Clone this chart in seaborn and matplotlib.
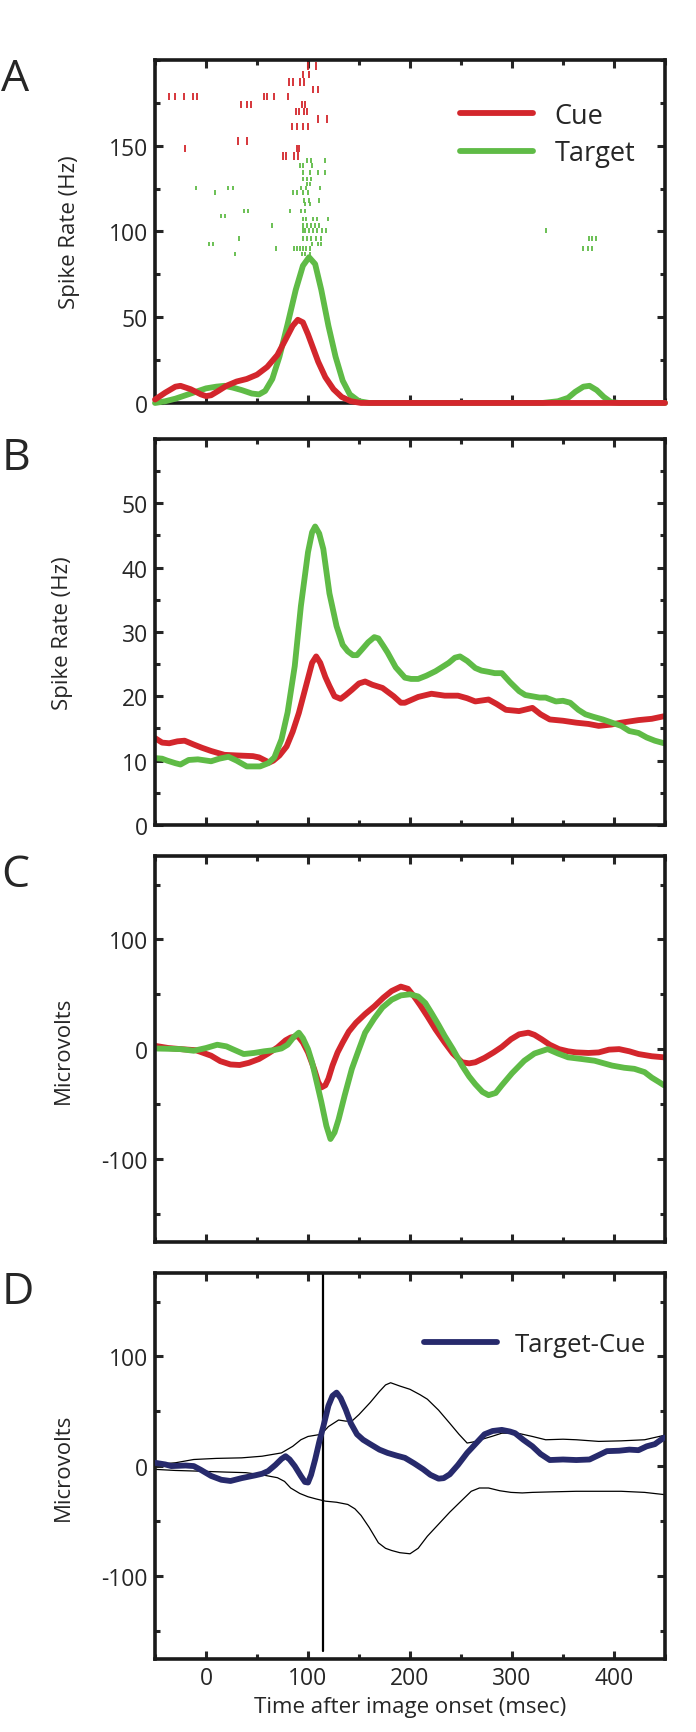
import numpy as np
import pandas as pd
import matplotlib
matplotlib.use('Agg')
import matplotlib.pyplot as plt
from matplotlib.ticker import MultipleLocator
import seaborn as sns

sns.set_style('ticks')
plt.rcParams['font.family'] = ['Open Sans', 'DejaVu Sans']
plt.rcParams['axes.unicode_minus'] = False

RED = '#d3262c'
GREEN = '#5fbb46'
NAVY = '#272a6c'

# ---- Panel A: smoothed spike rate (Hz) ----
cue_a_t = [-50, -40, -30, -25, -15, -5, 0, 5, 12, 20, 30, 40, 50, 60, 70, 78, 85, 90, 95,
           100, 105, 110, 117, 125, 133, 142, 152, 200, 300, 450]
cue_a_v = [2, 6, 9.5, 10, 8, 5, 4, 4.5, 7, 10, 12.5, 14, 16.5, 21, 28, 37, 45, 48.5, 47,
           40, 32, 24, 15, 8, 3.5, 1, 0, 0, 0, 0]
tgt_a_t = [-50, -40, -30, -20, -10, 0, 10, 18, 26, 35, 45, 52, 58, 65, 72, 80, 88, 95, 101,
           107, 113, 120, 127, 134, 141, 150, 160, 250, 330, 345, 355, 362, 370, 376, 383,
           390, 397, 405, 450]
tgt_a_v = [0, 1, 2.5, 4.5, 6.5, 8.5, 9.5, 10, 9, 7.5, 5.5, 5, 7, 14, 27, 46, 66, 80, 85,
           81, 66, 45, 27, 13, 5, 1, 0, 0, 0, 1, 3, 6.5, 9.5, 10, 7.5, 3.5, 0.5, 0, 0]

# spike rasters: row position (Hz axis) and spike times per row
cue_rows = [196.5, 191.7, 187.2, 182.9, 178.6, 174.2, 169.9, 165.6, 161.1, 152.8, 148.5, 144.0]
cue_spikes = [
    [100, 108],
    [95, 101],
    [81, 85, 92, 96],
    [105, 110],
    [-36, -30, -22, -13, -9, 57, 60, 67, 80],
    [34, 40, 44, 94, 97],
    [88, 91, 96, 99],
    [110, 119],
    [84, 89, 95, 100],
    [31, 40],
    [-21, 89, 91],
    [75, 78, 86, 90],
]
tgt_rows = [141.3, 138.4, 134.5, 130.6, 127.7, 125.2, 122.8, 118.0, 116.0, 112.1, 109.0,
            107.3, 103.4, 100.5, 96.0, 92.7, 90.2, 86.9]
tgt_spikes = [
    [99, 103, 117],
    [92, 95, 104],
    [95, 102, 110, 117],
    [95, 99, 103],
    [99, 102],
    [-10, 22, 26, 93, 98, 112],
    [9, 85, 89, 95, 100],
    [96, 101, 111],
    [97, 102],
    [37, 41, 82, 93, 97],
    [15, 19],
    [95, 98, 105, 109, 120],
    [65, 95, 99, 103, 107, 111],
    [95, 97, 101, 105, 109, 114, 118, 333],
    [32, 95, 99, 103, 108, 113, 375, 378, 382],
    [3, 7, 104, 110, 113],
    [69, 86, 89, 92, 95, 98, 102, 370, 374, 378],
    [28, 94, 97, 102],
]

# ---- Panel B: spike rate (Hz) ----
cue_b_t = [-50, -43, -36, -28, -21, -12, -4, 5, 18, 31, 46, 52, 57, 62, 66, 72, 79, 85, 91,
           97, 104, 108, 112, 117, 121, 126, 132, 137, 143, 150, 156, 163, 173, 184, 191,
           195, 208, 221, 234, 247, 256, 264, 277, 285, 294, 307, 320, 328, 337, 350, 363,
           375, 385, 397, 407, 424, 437, 449]
cue_b_v = [13.5, 12.8, 12.7, 13, 13.1, 12.5, 12, 11.5, 10.9, 10.8, 10.7, 10.5, 10.1, 9.7, 10,
           10.8, 12.2, 14.5, 17.4, 21, 25.2, 26.2, 25.2, 23, 21.6, 20, 19.6, 20.2, 21, 22,
           22.3, 21.8, 21.3, 20, 19, 19, 19.9, 20.4, 20.1, 20.1, 19.7, 19.2, 19.5, 18.8, 17.9,
           17.7, 18.2, 17.2, 16.4, 16.2, 15.9, 15.7, 15.4, 15.6, 15.9, 16.3, 16.5, 16.9]
tgt_b_t = [-50, -43, -38, -30, -25, -17, -8, 5, 13, 22, 30, 40, 53, 61, 67, 74, 80, 87, 93,
           100, 104, 107, 111, 115, 121, 128, 134, 139, 144, 148, 153, 159, 165, 169, 174,
           178, 186, 195, 201, 208, 216, 225, 232, 238, 244, 249, 256, 264, 270, 277, 283,
           290, 298, 307, 313, 320, 327, 333, 343, 350, 357, 365, 372, 380, 389, 398, 407,
           415, 424, 432, 440, 449]
tgt_b_v = [10.4, 10.3, 10, 9.6, 9.4, 10.1, 10.2, 9.9, 10.3, 10.6, 10, 9.1, 9.1, 9.6, 10.5,
           13.3, 17.5, 24.7, 34, 42.4, 45.5, 46.4, 45.3, 42.9, 36, 30.9, 28, 27, 26.4, 26.4,
           27.3, 28.4, 29.2, 29, 27.8, 26.8, 24.5, 22.9, 22.7, 22.7, 23.2, 23.9, 24.6, 25.2,
           26, 26.2, 25.5, 24.4, 24, 23.8, 23.6, 23.6, 22.2, 20.8, 20.2, 20, 19.8, 19.8, 19.2,
           19.3, 19, 17.9, 17.2, 16.8, 16.4, 15.9, 15.4, 14.6, 14.3, 13.6, 13.1, 12.7]

# ---- Panel C: field potential (microvolts) ----
cue_c_t = [-50, -37, -25, -10, -4, 5, 14, 24, 33, 42, 52, 61, 70, 78, 83, 90, 95, 100, 106,
           110, 113, 117, 120, 124, 129, 134, 140, 147, 156, 165, 174, 182, 191, 198, 204,
           210, 217, 225, 234, 242, 251, 258, 264, 273, 282, 290, 299, 307, 316, 322, 329,
           337, 346, 355, 363, 375, 385, 395, 405, 415, 424, 437, 449]
cue_c_v = [3, 1, 0, -1, -3, -6, -11, -14, -14.5, -12.5, -9, -4, 1.5, 8, 10.6, 12, 6, -3, -18,
           -30, -35, -33, -27, -15, -3, 6, 16, 24, 32, 39, 47, 53, 57, 55, 48, 40, 30, 18,
           6, -4, -12, -13, -12, -8, -3, 2, 9, 13.5, 15, 13, 9, 4, 0, -2, -3, -3.5, -3,
           -0.5, 0, -2, -4.5, -6.5, -7.5]
tgt_c_t = [-50, -25, -12, 0, 11, 20, 26, 37, 47, 57, 66, 74, 80, 86, 91, 95, 100, 104, 108,
           113, 118, 122, 126, 130, 136, 143, 150, 156, 165, 173, 182, 191, 200, 208, 215,
           221, 228, 234, 242, 251, 258, 264, 271, 277, 284, 290, 300, 312, 322, 335, 345,
           355, 368, 381, 398, 410, 420, 430, 437, 444, 449]
tgt_c_v = [0.6, 0, -1.5, 1, 4, 2.5, 0, -4.5, -3.5, -2, -1, 0.6, 4, 11, 15, 10, 0, -12, -28,
           -48, -70, -82, -76, -64, -42, -18, 0, 15, 28, 38, 45, 49, 50, 48, 42, 33, 22, 12,
           0, -15, -25, -32, -39, -42, -40, -33, -22, -10.6, -4, 0, -4, -7.5, -9, -10.6, -15,
           -17, -18, -21, -26, -30, -33]

# ---- Panel D: Target-Cue difference and bounds ----
diff_t = [-50, -40, -34, -20, -12, -5, 5, 15, 24, 35, 48, 55, 61, 68, 74, 78, 82, 87, 93,
          97, 100, 103, 107, 111, 115, 120, 124, 128, 132, 137, 142, 148, 154, 161, 170, 178,
          187, 195, 204, 213, 220, 228, 233, 239, 247, 256, 265, 273, 281, 290, 298, 303, 311,
          320, 328, 337, 350, 363, 376, 385, 393, 405, 415, 424, 432, 440, 449]
diff_v = [3, 1.5, 0, 0.5, 0, -3.5, -9, -12.5, -13.6, -11, -8.5, -7, -4.5, 1, 6.5, 9, 6, 0,
          -9, -14.5, -15, -8, 6, 22, 36, 55, 64, 67, 62, 51.5, 39, 29, 24, 20, 15, 12, 9.5,
          7.5, 2.5, -3, -8, -11.5, -11, -7.5, 1, 12, 21, 29, 32, 33, 31.5, 30, 24, 18, 11,
          5.5, 6, 5.5, 6, 10, 13.6, 14, 15, 14.5, 18, 20, 26]
upper_t = [-50, -30, -12, 10, 35, 55, 74, 85, 93, 100, 113, 120, 130, 137, 143, 150, 161, 170,
           176, 181, 190, 200, 210, 217, 228, 239, 248, 256, 262, 269, 280, 290, 300, 307,
           320, 333, 350, 363, 385, 407, 430, 449]
upper_v = [1.5, 3, 6, 7, 7.5, 9, 12, 18, 24, 27, 29, 36, 42, 41, 41, 47, 58, 68, 74, 76, 73,
           70, 65, 61, 51, 39, 29, 21, 22, 24, 27, 30, 30, 29.7, 27, 24, 24.5, 24, 22.5, 23,
           24, 28]
lower_t = [-50, -30, -12, 20, 39, 55, 70, 77, 83, 92, 100, 108, 117, 128, 139, 146, 152, 160,
           169, 176, 182, 190, 200, 208, 217, 228, 239, 250, 260, 268, 277, 288, 299, 310,
           320, 340, 363, 385, 407, 430, 449]
lower_v = [-3, -4, -4.5, -5.5, -6, -8, -10.6, -14, -20, -25, -28, -30, -32, -33, -35, -39,
           -45, -56, -70, -75, -77, -79, -80, -75, -64, -53, -42, -32, -23, -20, -20, -22.5,
           -24, -24.5, -24, -23.5, -23, -23, -23, -24, -26]
marker_time = 115

x_ticks = [0, 100, 200, 300, 400]

fig = plt.figure(figsize=(6.96, 17.33), dpi=100)
ax_a = fig.add_axes([0.2227, 0.7669, 0.7328, 0.1979])
ax_b = fig.add_axes([0.2227, 0.5234, 0.7328, 0.2227])
ax_c = fig.add_axes([0.2227, 0.2827, 0.7328, 0.2227])
ax_d = fig.add_axes([0.2227, 0.0421, 0.7328, 0.2227])
axes = [ax_a, ax_b, ax_c, ax_d]

THICK = 4.2

# A
for rows, spikes, col, h in [(cue_rows, cue_spikes, RED, 4.2), (tgt_rows, tgt_spikes, GREEN, 2.6)]:
    for r, ts in zip(rows, spikes):
        ax_a.vlines(ts, r - h / 2, r + h / 2, color=col, lw=1.3)
sns.lineplot(x=cue_a_t, y=cue_a_v, ax=ax_a, color=RED, lw=THICK, label='Cue', clip_on=False,
             zorder=5)
sns.lineplot(x=tgt_a_t, y=tgt_a_v, ax=ax_a, color=GREEN, lw=THICK, label='Target',
             clip_on=False, zorder=4)
ax_a.set_ylim(0, 200)
ax_a.yaxis.set_minor_locator(MultipleLocator(25))
ax_a.set_yticks([0, 50, 100, 150])
ax_a.set_ylabel('Spike Rate (Hz)', fontsize=16)
ax_a.yaxis.set_label_coords(-0.148, 0.5)
ax_a.legend(loc='upper left', bbox_to_anchor=(0.598, 0.878), frameon=False, borderpad=0,
            borderaxespad=0, handlelength=2.7, handletextpad=0.8, labelspacing=0.35,
            fontsize=19.5)

# B
sns.lineplot(x=cue_b_t, y=cue_b_v, ax=ax_b, color=RED, lw=THICK)
sns.lineplot(x=tgt_b_t, y=tgt_b_v, ax=ax_b, color=GREEN, lw=THICK)
ax_b.set_ylim(0, 60)
ax_b.set_yticks([0, 10, 20, 30, 40, 50])
ax_b.yaxis.set_minor_locator(MultipleLocator(5))
ax_b.set_ylabel('Spike Rate (Hz)', fontsize=16)
ax_b.yaxis.set_label_coords(-0.16, 0.5)

# C
sns.lineplot(x=cue_c_t, y=cue_c_v, ax=ax_c, color=RED, lw=THICK)
sns.lineplot(x=tgt_c_t, y=tgt_c_v, ax=ax_c, color=GREEN, lw=THICK)
ax_c.set_ylabel('Microvolts', fontsize=16)
ax_c.yaxis.set_label_coords(-0.16, 0.5)

# D
ax_d.axvline(marker_time, ymin=0.02, ymax=1, color='black', lw=1.6)
sns.lineplot(x=upper_t, y=upper_v, ax=ax_d, color='black', lw=0.9)
sns.lineplot(x=lower_t, y=lower_v, ax=ax_d, color='black', lw=0.9)
sns.lineplot(x=diff_t, y=diff_v, ax=ax_d, color=NAVY, lw=THICK, label='Target-Cue', zorder=5)
ax_d.set_ylabel('Microvolts', fontsize=16)
ax_d.yaxis.set_label_coords(-0.16, 0.5)
ax_d.set_xlabel('Time after image onset (msec)', fontsize=16, labelpad=4)
ax_d.legend(loc='upper left', bbox_to_anchor=(0.527, 0.847), frameon=False, borderpad=0,
            borderaxespad=0, handlelength=2.85, handletextpad=0.7, fontsize=18.5)

for ax in [ax_c, ax_d]:
    ax.set_ylim(-176, 176)
    ax.set_yticks([-100, 0, 100])
    ax.yaxis.set_minor_locator(MultipleLocator(50))

for ax in axes:
    ax.set_xlim(-50, 450)
    ax.set_xticks(x_ticks)
    ax.xaxis.set_minor_locator(MultipleLocator(50))
    ax.tick_params(which='both', direction='in', top=True, right=True, width=2.2,
                   labelsize=16.5, pad=5)
    ax.tick_params(which='major', length=6)
    ax.tick_params(which='minor', length=3.5)
    for s in ax.spines.values():
        s.set_linewidth(2.6)
        s.set_color('#1a1a1a')
        s.set_zorder(3)
    if ax is not ax_d:
        ax.tick_params(labelbottom=False)
        ax.set_xlabel('')

# panel letters, baseline ~30 px below each axes top
for ax, letter in zip(axes, 'ABCD'):
    top = ax.get_position().y1
    fig.text(0.002, top - 30 / 1733, letter, fontsize=32, va='baseline', ha='left')

fig.savefig('out.png', dpi=100)
